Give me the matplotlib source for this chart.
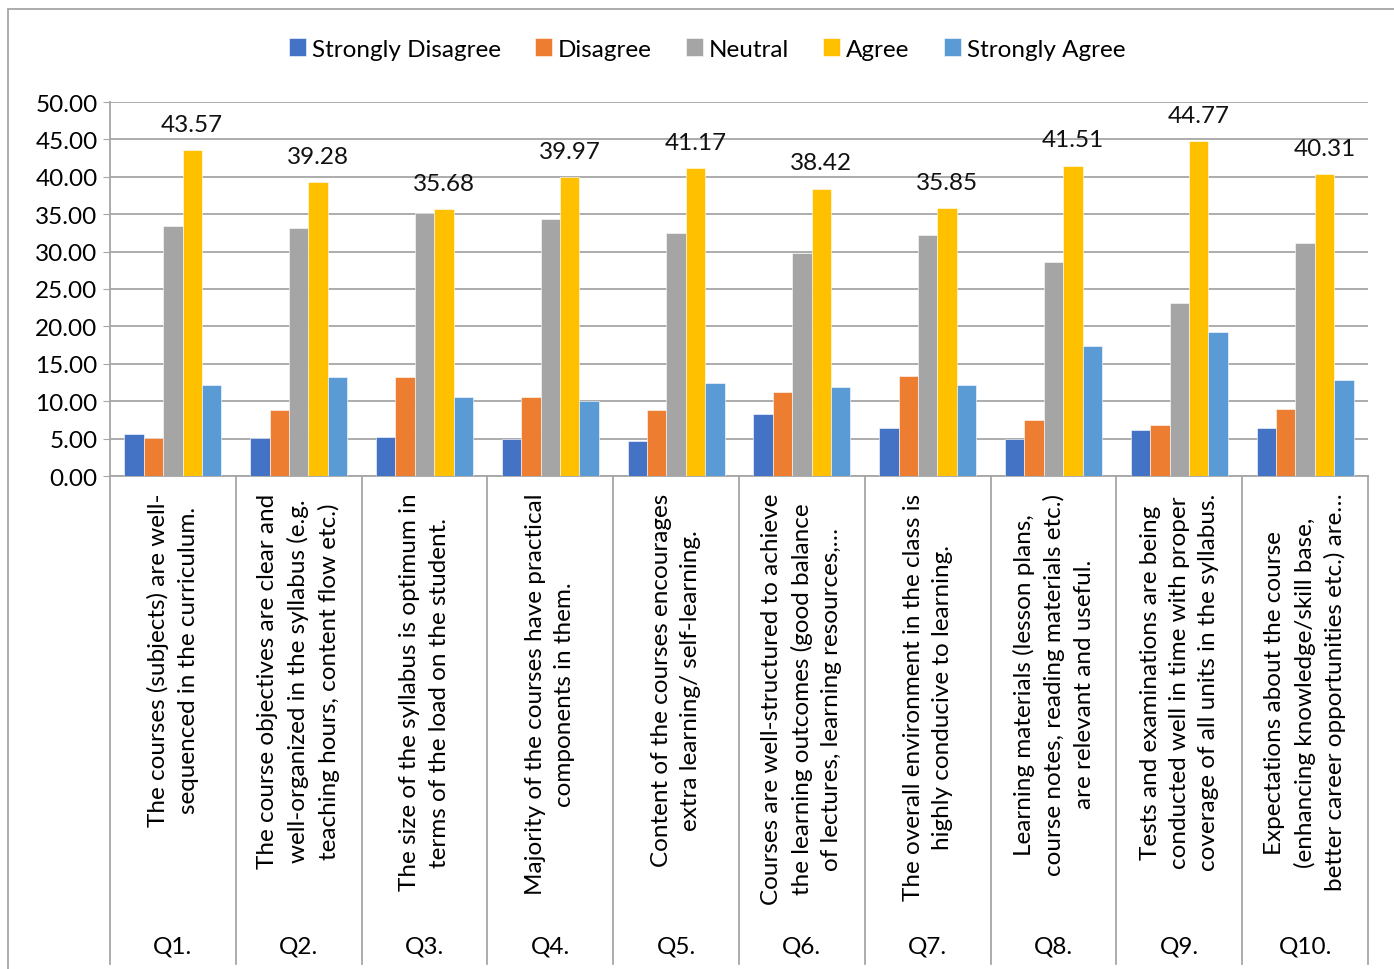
import numpy as np
import matplotlib
matplotlib.use("Agg")
import matplotlib.pyplot as plt
from matplotlib.patches import Rectangle

plt.rcParams['font.family'] = ['Lato', 'DejaVu Sans']

# ---------- data ----------
questions = ["Q1.", "Q2.", "Q3.", "Q4.", "Q5.", "Q6.", "Q7.", "Q8.", "Q9.", "Q10."]
statements = [
    "The courses (subjects) are well-\nsequenced in the curriculum.",
    "The course objectives are clear and\nwell-organized in the syllabus (e.g.\nteaching hours, content flow etc.)",
    "The size of the syllabus is optimum in\nterms of the load on the student.",
    "Majority of the courses have practical\ncomponents in them.",
    "Content of the courses encourages\nextra learning/ self-learning.",
    "Courses are well-structured to achieve\nthe learning outcomes (good balance\nof lectures, learning resources,\u2026",
    "The overall environment in the class is\nhighly conducive to learning.",
    "Learning materials (lesson plans,\ncourse notes, reading materials etc.)\nare relevant and useful.",
    "Tests and examinations are being\nconducted well in time with proper\ncoverage of all units in the syllabus.",
    "Expectations about the course\n(enhancing knowledge/skill base,\nbetter career opportunities etc.) are\u2026",
]
series_names = ["Strongly Disagree", "Disagree", "Neutral", "Agree", "Strongly Agree"]
strongly_disagree = [5.58, 5.04, 5.22, 4.96, 4.73, 8.35, 6.38, 4.96, 6.12, 6.47]
disagree = [5.04, 8.84, 13.30, 10.54, 8.84, 11.25, 13.39, 7.46, 6.79, 9.02]
neutral = [33.39, 33.21, 35.13, 34.42, 32.54, 29.87, 32.28, 28.62, 23.17, 31.16]
agree = [43.57, 39.28, 35.68, 39.97, 41.17, 38.42, 35.85, 41.51, 44.77, 40.31]
strongly_agree = [12.14, 13.30, 10.54, 10.04, 12.46, 11.96, 12.19, 17.32, 19.20, 12.81]
yticks = [0, 5, 10, 15, 20, 25, 30, 35, 40, 45, 50]

colors = ["#4472C4", "#ED7D31", "#A5A5A5", "#FFC000", "#5B9BD5"]
all_series = [strongly_disagree, disagree, neutral, agree, strongly_agree]
fs = 17.5

fig = plt.figure(figsize=(13.94, 9.70), dpi=100)
ax = fig.add_axes([110/1394, 1 - 477/970, (1368-110)/1394, (477-103)/970])

x = np.arange(len(questions))
w = 0.154
for i, (vals, name, c) in enumerate(zip(all_series, series_names, colors)):
    bars = ax.bar(x + (i - 2) * w, vals, w, color=c, label=name,
                  edgecolor="white", linewidth=0.4, zorder=3)
    if name == "Agree":
        for b, v in zip(bars, vals):
            ax.annotate(f"{v:.2f}", (b.get_x() + b.get_width()/2, v),
                        xytext=(0, 18.5), textcoords="offset points",
                        ha="center", va="center", fontsize=fs, color="#111111")

ax.set_xlim(-0.5, len(questions) - 0.5)
ax.set_ylim(0, 50)
ax.set_yticks(yticks)
ax.set_yticklabels([f"{t:.2f}" for t in yticks], fontsize=fs)
ax.yaxis.grid(True, color="#a6a6a6", linewidth=1.3, zorder=0)
ax.set_axisbelow(True)
ax.tick_params(axis="y", length=5, color="#a6a6a6", pad=4)
ax.set_xticks([])
for s in ["top", "right"]:
    ax.spines[s].set_visible(False)
ax.spines["bottom"].set_color("#a6a6a6")
ax.spines["left"].set_color("#a6a6a6")
ax.spines["bottom"].set_linewidth(1.3)
ax.spines["left"].set_linewidth(1.3)

# category separators below the axis
trans = ax.get_xaxis_transform()
for xs in np.arange(-0.5, len(questions), 1.0):
    ax.plot([xs, xs], [0, -1.305], transform=trans, color="#a6a6a6",
            linewidth=1.3, clip_on=False)

for i in range(len(questions)):
    ax.text(i, -0.045, statements[i], transform=trans, rotation=90,
            ha="center", va="top", multialignment="center", fontsize=fs,
            linespacing=1.48)
    ax.text(i, -1.257, questions[i], transform=trans, ha="center",
            va="center", fontsize=fs)

leg = fig.legend(loc="center", bbox_to_anchor=(707/1394, 1 - 50/970), ncol=5,
                 frameon=False, fontsize=fs, handlelength=0.7, handleheight=0.7,
                 handletextpad=0.25, columnspacing=1.4)

# chart area border
fig.patches.append(Rectangle((8/1394, -0.02), 1.0, 1 - 10/970 + 0.02,
                             transform=fig.transFigure, fill=False,
                             edgecolor="#a6a6a6", linewidth=1.3))

fig.savefig("out.png", dpi=100)
